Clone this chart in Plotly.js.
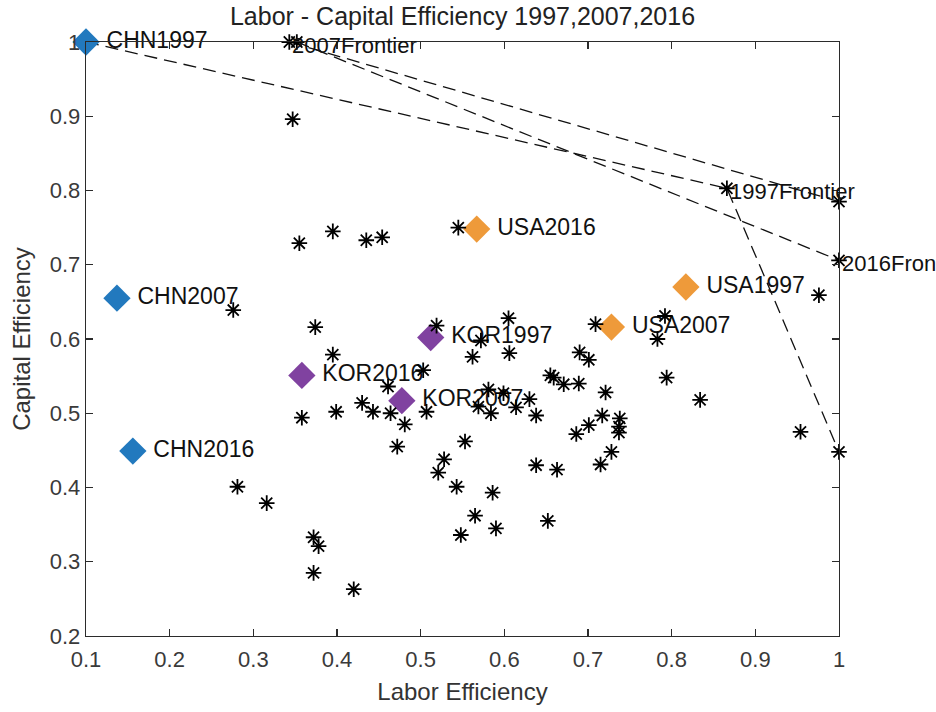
<!DOCTYPE html>
<html>
<head>
<meta charset="utf-8">
<script src="https://cdn.plot.ly/plotly-3.0.1.min.js"></script>
<style>
  html, body { margin: 0; padding: 0; background: #ffffff; }
  #chart { width: 936px; height: 712px; }
</style>
</head>
<body>
<div id="chart"></div>
<script>
// ---- Data ----
// Other economies (black stars): labor efficiency, capital efficiency
const starX = [0.343, 0.352, 0.347, 0.355, 0.395, 0.435, 0.454, 0.545, 0.866, 1.000,
               1.000, 0.976, 0.276, 0.374, 0.395, 0.358, 0.399, 0.430, 0.443, 0.461,
               0.464, 0.481, 0.503, 0.507, 0.519, 0.472, 0.553, 0.528, 0.521, 0.572,
               0.562, 0.605, 0.606, 0.581, 0.569, 0.584, 0.599, 0.709, 0.792, 0.783,
               0.690, 0.701, 0.655, 0.659, 0.671, 0.689, 0.794, 0.834, 0.954, 1.000,
               0.630, 0.614, 0.638, 0.721, 0.717, 0.701, 0.686, 0.738, 0.737, 0.737,
               0.728, 0.715, 0.638, 0.663, 0.586, 0.565, 0.590, 0.548, 0.652, 0.543,
               0.281, 0.316, 0.372, 0.378, 0.372, 0.420];
const starY = [1.000, 1.000, 0.896, 0.729, 0.745, 0.733, 0.737, 0.750, 0.803, 0.785,
               0.706, 0.659, 0.639, 0.616, 0.579, 0.494, 0.502, 0.514, 0.502, 0.536,
               0.500, 0.485, 0.558, 0.502, 0.618, 0.455, 0.462, 0.438, 0.420, 0.598,
               0.576, 0.628, 0.581, 0.532, 0.509, 0.500, 0.527, 0.620, 0.631, 0.600,
               0.582, 0.572, 0.551, 0.548, 0.539, 0.540, 0.548, 0.518, 0.475, 0.448,
               0.519, 0.508, 0.497, 0.528, 0.497, 0.484, 0.472, 0.493, 0.482, 0.474,
               0.448, 0.431, 0.430, 0.424, 0.393, 0.362, 0.345, 0.336, 0.355, 0.401,
               0.401, 0.379, 0.333, 0.321, 0.285, 0.263];

// Highlighted countries
const chnLabels = ["CHN1997", "CHN2007", "CHN2016"];
const chnX = [0.100, 0.137, 0.156];
const chnY = [1.000, 0.655, 0.449];

const usaLabels = ["USA1997", "USA2007", "USA2016"];
const usaX = [0.817, 0.728, 0.567];
const usaY = [0.670, 0.616, 0.748];

const korLabels = ["KOR1997", "KOR2007", "KOR2016"];
const korX = [0.512, 0.4775, 0.358];
const korY = [0.602, 0.517, 0.551];

// Frontiers
const frontier1997X = [0.100, 0.866, 1.000];
const frontier1997Y = [1.000, 0.803, 0.448];
const frontier2007X = [0.343, 1.000];
const frontier2007Y = [1.000, 0.785];
const frontier2016X = [0.352, 1.000];
const frontier2016Y = [1.000, 0.706];

const frontierLabels = ["2007Frontier", "1997Frontier", "2016Frontier"];
const frontierLabelX = [0.343, 0.866, 1.000];
const frontierLabelY = [1.000, 0.803, 0.706];

// Axis ticks
const xTickVals = [0.1, 0.2, 0.3, 0.4, 0.5, 0.6, 0.7, 0.8, 0.9, 1];
const xTickText = ["0.1", "0.2", "0.3", "0.4", "0.5", "0.6", "0.7", "0.8", "0.9", "1"];
const yTickVals = [0.2, 0.3, 0.4, 0.5, 0.6, 0.7, 0.8, 0.9, 1];
const yTickText = ["0.2", "0.3", "0.4", "0.5", "0.6", "0.7", "0.8", "0.9", "1"];

// ---- Styles ----
const FONT = "Liberation Sans, Arial, Helvetica, sans-serif";
const AXIS_COLOR = "#2b2b2b";
const lineStyle = { color: "#111111", width: 1.3, dash: "13px,7px" };

function frontierTrace(x, y) {
  return { type: "scatter", mode: "lines", x: x, y: y, line: lineStyle,
           hoverinfo: "skip", showlegend: false, cliponaxis: false };
}
function countryTrace(x, y, labels, color) {
  return {
    type: "scatter", mode: "markers+text", x: x, y: y, text: labels,
    texttemplate: " %{text}",
    textposition: "middle right",
    textfont: { family: FONT, size: 23, color: "#111111" },
    marker: { symbol: "diamond", size: 21, color: color, line: { width: 0 } },
    showlegend: false, cliponaxis: false
  };
}

const traces = [
  frontierTrace(frontier1997X, frontier1997Y),
  frontierTrace(frontier2007X, frontier2007Y),
  frontierTrace(frontier2016X, frontier2016Y),
  countryTrace(chnX, chnY, chnLabels, "#2279be"),
  countryTrace(usaX, usaY, usaLabels, "#ee9a3a"),
  countryTrace(korX, korY, korLabels, "#8042a0"),
  {
    type: "scatter", mode: "markers", x: starX, y: starY,
    marker: { symbol: "asterisk-open", size: 13, color: "#000000",
              line: { color: "#000000", width: 1.8 } },
    showlegend: false, cliponaxis: false
  }
];

// Frontier labels: text left-aligned at the frontier point (as MATLAB text())
const frontierAnnotations = frontierLabels.map(function (t, i) {
  return {
    x: frontierLabelX[i], y: frontierLabelY[i], xref: "x", yref: "y",
    text: t, showarrow: false, xanchor: "left", yanchor: "middle",
    xshift: 1, yshift: -3,
    font: { family: FONT, size: 22, color: "#111111" }
  };
});

const axisCommon = {
  showgrid: false, zeroline: false, showline: true, mirror: "ticks",
  linecolor: AXIS_COLOR, linewidth: 1.3, ticks: "inside", ticklen: 7,
  tickwidth: 1.2, tickcolor: AXIS_COLOR, tickmode: "array",
  tickfont: { family: FONT, size: 22, color: "#3a3a3a" }
};

const layout = {
  width: 936, height: 712,
  margin: { l: 86, r: 97, t: 42, b: 76, pad: 0 },
  paper_bgcolor: "#ffffff", plot_bgcolor: "#ffffff",
  title: {
    text: "Labor - Capital Efficiency 1997,2007,2016",
    font: { family: FONT, size: 25, color: "#222222" },
    x: 0.5, xref: "paper", xanchor: "center",
    y: 0.977, yref: "container", yanchor: "middle"
  },
  xaxis: Object.assign({}, axisCommon, {
    range: [0.1, 1], tickvals: xTickVals, ticktext: xTickText,
    ticklabelstandoff: 3,
    title: { text: "Labor Efficiency", font: { family: FONT, size: 24, color: "#333333" }, standoff: 12 }
  }),
  yaxis: Object.assign({}, axisCommon, {
    range: [0.2, 1], tickvals: yTickVals, ticktext: yTickText,
    title: { text: "Capital Efficiency", font: { family: FONT, size: 24, color: "#333333" }, standoff: 12 }
  }),
  annotations: frontierAnnotations,
  showlegend: false
};

Plotly.newPlot("chart", traces, layout, { staticPlot: true, displayModeBar: false });
</script>
</body>
</html>
